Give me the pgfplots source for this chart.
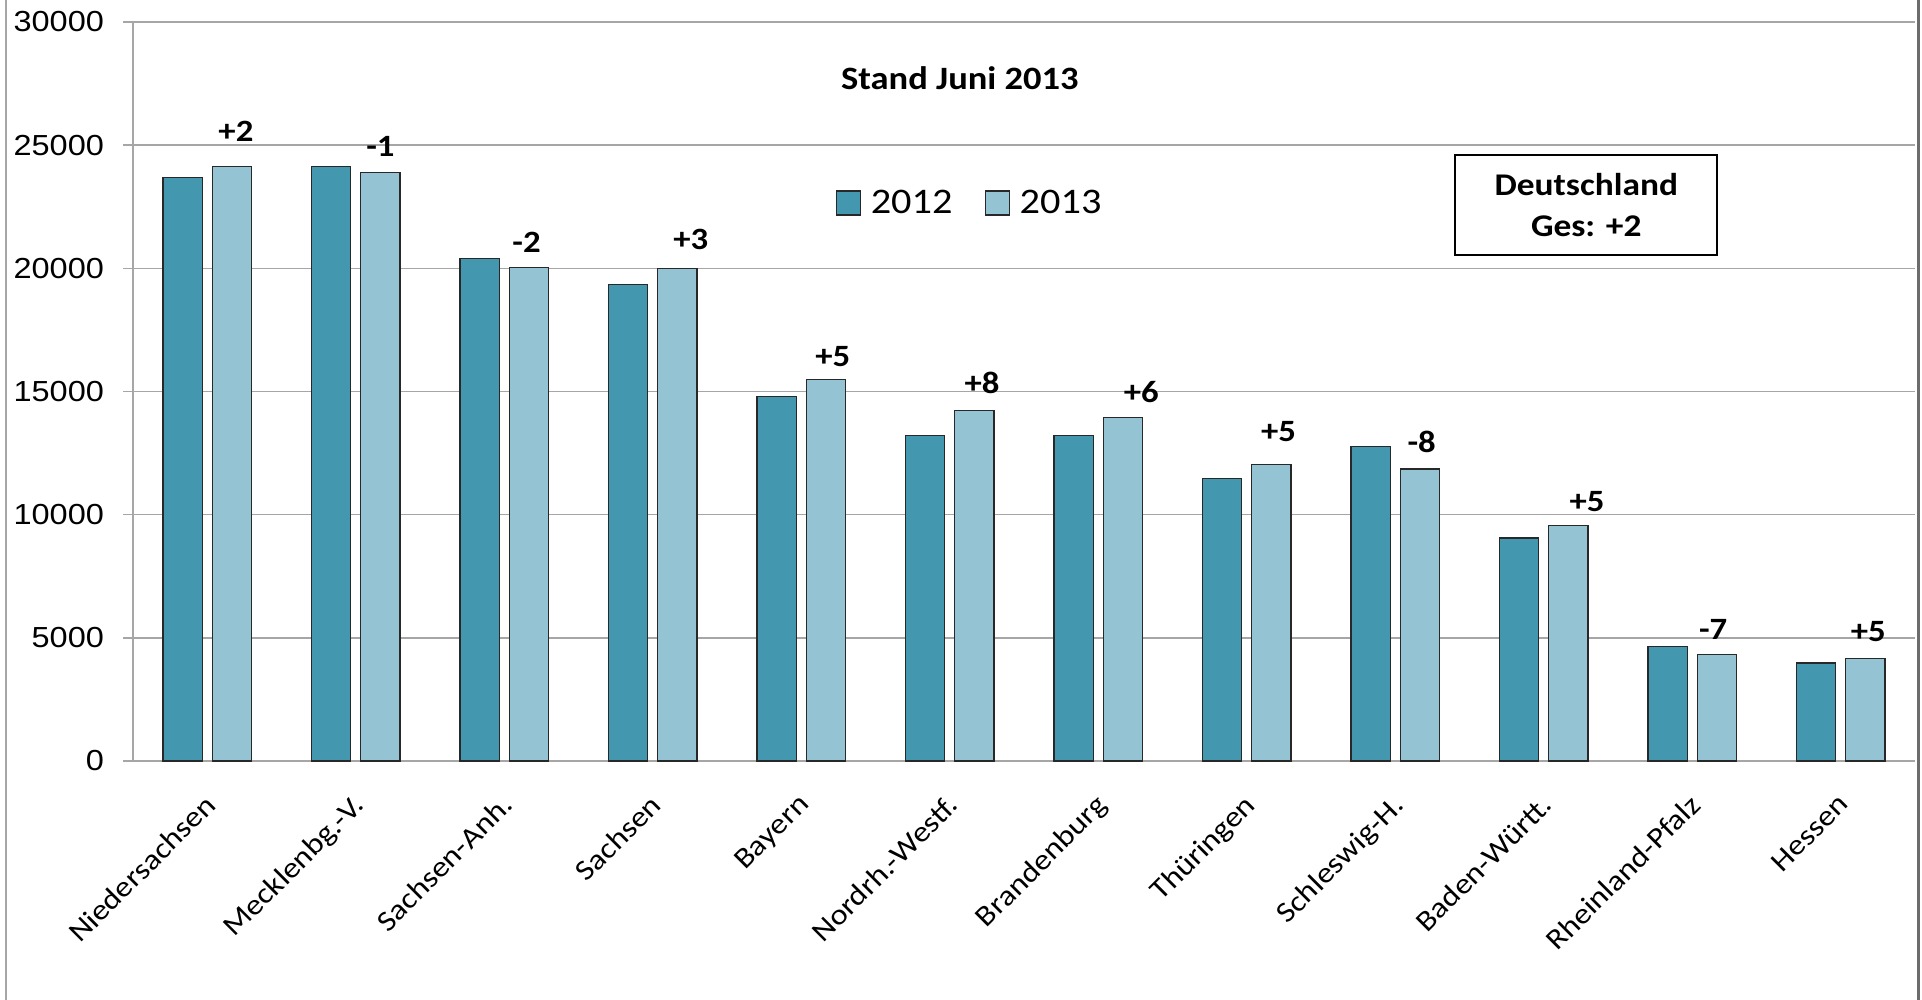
\documentclass[border=0pt]{standalone}
\usepackage{fontspec}
\setmainfont{Carlito}[FakeStretch=1.12]
\newfontfamily\arialf{Liberation Sans}[FakeStretch=1.12]
\usepackage{pgfplots}
\usepackage{pgfplotstable}
\pgfplotsset{compat=1.18}

\definecolor{cA}{RGB}{67,152,176}
\definecolor{cB}{RGB}{148,195,212}
\definecolor{bord}{RGB}{40,40,40}
\definecolor{gridc}{RGB}{166,166,166}

\pgfplotstableread{
x y2012 y2013
0 23700 24120
1 24120 23900
2 20410 20030
3 19350 19990
4 14790 15480
5 13200 14230
6 13200 13940
7 11460 12030
8 12780 11850
9 9050 9570
10 4640 4310
11 3980 4160
}\bars

\pgfplotstableread{
x y label
0.193 25560 +2
1.166 24930 -1
2.150 21070 -2
3.256 21160 +3
4.213 16410 +5
5.218 15350 +8
6.290 14990 +6
7.214 13360 +5
8.178 12960 -8
9.291 10520 +5
10.141 5320 -7
11.186 5240 +5
}\labs

\begin{document}
\begin{tikzpicture}
\useasboundingbox (-66.5pt,-119.5pt) rectangle (894.5pt,380.5pt);
\begin{axis}[
  at={(0,0)}, anchor=south west,
  scale only axis, width=891pt, height=369.5pt,
  xmin=-0.5, xmax=11.5, ymin=0, ymax=30000,
  scaled y ticks=false,
  axis x line*=bottom, axis y line*=left,
  axis line style={gridc, line width=0.8pt},
  ytick={0,5000,...,30000},
  yticklabels={0,5000,10000,15000,20000,25000,30000},
  ymajorgrids, grid style={gridc, line width=0.8pt},
  tick align=outside, major tick length=5pt,
  ytick style={gridc, line width=0.8pt},
  yticklabel style={font=\arialf\fontsize{14.5}{16}\selectfont, xshift=-6pt},
  xtick={0,...,11},
  xticklabels={Niedersachsen,Mecklenbg.-V.,Sachsen-Anh.,Sachsen,Bayern,Nordrh.-Westf.,Brandenburg,Thüringen,Schleswig-H.,Baden-Württ.,Rheinland-Pfalz,Hessen},
  xtick style={draw=none},
  xticklabel style={font=\fontsize{14.5}{16}\selectfont, rotate=45, anchor=north east, inner sep=0pt, xshift=-9pt, yshift=-6pt},
  legend columns=2,
  legend style={at={(0.47,0.755)}, anchor=center, draw=none, fill=none,
    font=\fontsize{18}{20}\selectfont,
    /tikz/every odd column/.append style={column sep=3pt},
    /tikz/every even column/.append style={column sep=14pt}},
  clip=false,
]
\addplot[ybar, bar width=0.265, bar shift=-0.166, fill=cA, draw=bord, line width=0.6pt,
  legend image code/.code={\draw[fill=cA, draw=bord, line width=0.6pt] (0pt,-6pt) rectangle (12pt,6pt);}]
  table[x=x, y=y2012]{\bars};
\addlegendentry{2012}
\addplot[ybar, bar width=0.265, bar shift=0.166, fill=cB, draw=bord, line width=0.6pt,
  legend image code/.code={\draw[fill=cB, draw=bord, line width=0.6pt] (0pt,-6pt) rectangle (12pt,6pt);}]
  table[x=x, y=y2013]{\bars};
\addlegendentry{2013}
\addplot[draw=none, forget plot, nodes near coords, point meta=explicit symbolic,
  every node near coord/.style={anchor=center, font=\bfseries\fontsize{15.5}{17}\selectfont, inner sep=0pt}]
  table[x=x, y=y, meta=label]{\labs};
\node[font=\bfseries\fontsize{16.3}{18}\selectfont] at (rel axis cs:0.464,0.924) {Stand Juni 2013};
\node[draw=black, line width=1pt, minimum width=131pt, minimum height=50pt, align=center,
  font=\bfseries\fontsize{15.8}{20.5}\selectfont] at (rel axis cs:0.8155,0.7525) {Deutschland\\Ges: +2};
\end{axis}
\draw[gray!70, line width=1.2pt] (-63.4pt,-119.5pt) -- (-63.4pt,380.5pt);
\draw[gray!85!black, line width=1.7pt] (892.7pt,-119.5pt) -- (892.7pt,380.5pt);
\end{tikzpicture}
\end{document}
